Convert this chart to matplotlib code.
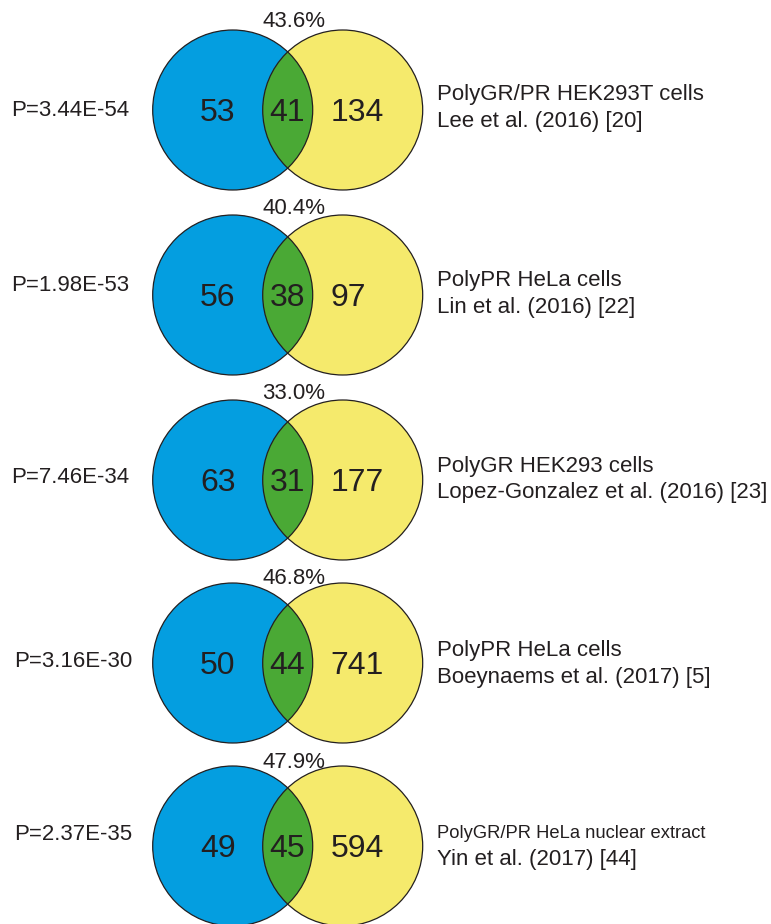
import matplotlib
matplotlib.use("Agg")
import matplotlib.pyplot as plt
from matplotlib.patches import Circle

plt.rcParams["font.family"] = ["Liberation Sans", "DejaVu Sans"]

# Overlap counts: proteins only in our set, shared, only in the published set
only_ours = [53, 56, 63, 50, 49]
shared = [41, 38, 31, 44, 45]
only_theirs = [134, 97, 177, 741, 594]
p_values = ["P=3.44E-54", "P=1.98E-53", "P=7.46E-34", "P=3.16E-30", "P=2.37E-35"]
study_lines = [
    "PolyGR/PR HEK293T cells",
    "PolyPR HeLa cells",
    "PolyGR HEK293 cells",
    "PolyPR HeLa cells",
    "PolyGR/PR HeLa nuclear extract",
]
study_refs = [
    "Lee et al. (2016) [20]",
    "Lin et al. (2016) [22]",
    "Lopez-Gonzalez et al. (2016) [23]",
    "Boeynaems et al. (2017) [5]",
    "Yin et al. (2017) [44]",
]

# Layout in pixel units (figure is 771 x 924)
W, H = 771, 924
row_y = [110, 295, 480, 663, 846]
pct_base = [27, 214.5, 399, 584, 767.5]
p_base = [116, 290.7, 483.3, 667.3, 840]
p_x = [11.6, 11.6, 11.6, 14.3, 14.3]
lab1_base = [100, 286, 471.7, 656, 838.3]
lab2_base = [126.7, 312.7, 498.3, 683.3, 865]
lab1_size = [16, 16, 16, 16, 13.2]
R = 80
cx_left, cx_right = 232.7, 342.7

BLUE = "#049ee0"
YELLOW = "#f5ea6c"
GREEN = "#4aa935"
INK = "#231f20"

fig = plt.figure(figsize=(W / 100, H / 100), dpi=100)
ax = fig.add_axes([0, 0, 1, 1])
ax.set_xlim(0, W)
ax.set_ylim(H, 0)
ax.set_aspect("equal")
ax.axis("off")

num_size = 23
for i in range(len(only_ours)):
    cy = row_y[i]
    left = Circle((cx_left, cy), R, facecolor=BLUE, edgecolor="none", zorder=1)
    right = Circle((cx_right, cy), R, facecolor=YELLOW, edgecolor="none", zorder=2)
    ax.add_patch(left)
    ax.add_patch(right)
    # intersection lens: a green copy of the right circle clipped by the left
    lens = Circle((cx_right, cy), R, facecolor=GREEN, edgecolor="none", zorder=3)
    ax.add_patch(lens)
    clip = Circle((cx_left, cy), R, transform=ax.transData)
    lens.set_clip_path(clip)
    for cx in (cx_left, cx_right):
        ax.add_patch(Circle((cx, cy), R, facecolor="none", edgecolor=INK,
                            linewidth=0.9, zorder=4))

    base = cy + 0.716 * num_size * 100 / 72 / 2
    ax.text(200.2, base, str(only_ours[i]), fontsize=num_size, color=INK,
            ha="left", va="baseline", zorder=5)
    ax.text(269.3, base, str(shared[i]), fontsize=num_size, color=INK,
            ha="left", va="baseline", zorder=5)
    ax.text(330.3, base, str(only_theirs[i]), fontsize=num_size, color=INK,
            ha="left", va="baseline", zorder=5)

    pct = 100 * shared[i] / (only_ours[i] + shared[i])
    ax.text(294, pct_base[i], f"{pct:.1f}%", fontsize=16, color=INK,
            ha="center", va="baseline")

    ax.text(p_x[i], p_base[i], p_values[i], fontsize=16, color=INK,
            ha="left", va="baseline")

    ax.text(436.8, lab1_base[i], study_lines[i], fontsize=lab1_size[i],
            color=INK, ha="left", va="baseline")
    ax.text(436.8, lab2_base[i], study_refs[i], fontsize=16, color=INK,
            ha="left", va="baseline")

fig.savefig("out.png", dpi=100)
